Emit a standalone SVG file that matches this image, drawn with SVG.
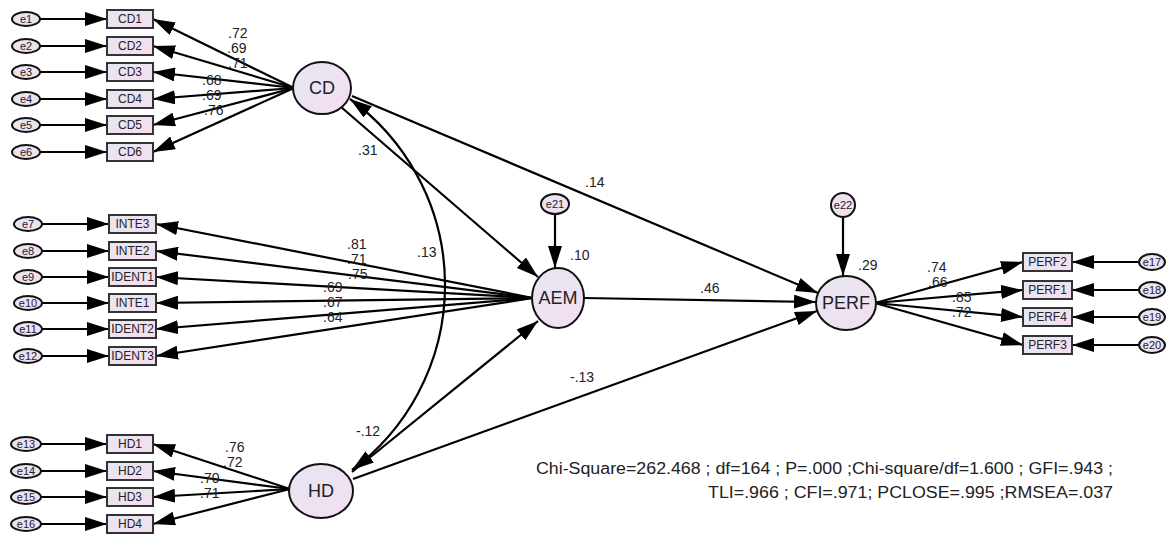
<svg xmlns="http://www.w3.org/2000/svg" width="1166" height="535" viewBox="0 0 1166 535">
<defs>
<linearGradient id="fillg" x1="0" y1="0" x2="1" y2="1">
<stop offset="0" stop-color="#e6e6f4"/>
<stop offset="1" stop-color="#f4deee"/>
</linearGradient>
<marker id="ah" markerUnits="userSpaceOnUse" markerWidth="22" markerHeight="14" refX="22" refY="7" orient="auto-start-reverse" viewBox="0 0 22 14">
<path d="M0,0 L22,7 L0,14 z" fill="#000"/>
</marker>
<style>
.c{stroke:#000;stroke-width:2.2;fill:none;marker-end:url(#ah)}
.cc{stroke:#000;stroke-width:2.2;fill:none;marker-end:url(#ah);marker-start:url(#ah)}
.n{fill:url(#fillg);stroke:#111;stroke-width:2}
.b{fill:url(#fillg);stroke:#333;stroke-width:2}
.e{fill:url(#fillg);stroke:#111;stroke-width:2}
text{font-family:"Liberation Sans",Arial,sans-serif;fill:#222}
.lt{font-size:18px;text-anchor:middle}
.bt{font-size:12px;text-anchor:middle}
.et{font-size:11px;text-anchor:middle}
.w{font-size:14px}
.fit{font-size:16px}
</style>
</defs>
<g id="connectors">
<line class="c" x1="40" y1="19" x2="107" y2="19"/>
<line class="c" x1="40" y1="46" x2="107" y2="46"/>
<line class="c" x1="40" y1="72" x2="107" y2="72"/>
<line class="c" x1="40" y1="99" x2="107" y2="99"/>
<line class="c" x1="40" y1="125" x2="107" y2="125"/>
<line class="c" x1="40" y1="152" x2="107" y2="152"/>
<line class="c" x1="42" y1="224" x2="109" y2="224"/>
<line class="c" x1="42" y1="251" x2="109" y2="251"/>
<line class="c" x1="42" y1="277" x2="109" y2="277"/>
<line class="c" x1="42" y1="303" x2="109" y2="303"/>
<line class="c" x1="42" y1="329" x2="109" y2="329"/>
<line class="c" x1="42" y1="356" x2="109" y2="356"/>
<line class="c" x1="41" y1="444" x2="107" y2="444"/>
<line class="c" x1="41" y1="471" x2="107" y2="471"/>
<line class="c" x1="41" y1="497" x2="107" y2="497"/>
<line class="c" x1="41" y1="524" x2="107" y2="524"/>
<line class="c" x1="1139" y1="262" x2="1072" y2="262"/>
<line class="c" x1="1139" y1="290" x2="1072" y2="290"/>
<line class="c" x1="1139" y1="317" x2="1072" y2="317"/>
<line class="c" x1="1139" y1="345" x2="1072" y2="345"/>
<line class="c" x1="294" y1="88" x2="153" y2="19"/>
<line class="c" x1="294" y1="88" x2="153" y2="46"/>
<line class="c" x1="294" y1="88" x2="153" y2="72"/>
<line class="c" x1="294" y1="88" x2="153" y2="99"/>
<line class="c" x1="294" y1="88" x2="153" y2="125"/>
<line class="c" x1="294" y1="88" x2="153" y2="152"/>
<line class="c" x1="533" y1="298" x2="156" y2="224"/>
<line class="c" x1="533" y1="298" x2="156" y2="251"/>
<line class="c" x1="533" y1="298" x2="156" y2="277"/>
<line class="c" x1="533" y1="298" x2="156" y2="303"/>
<line class="c" x1="533" y1="298" x2="156" y2="329"/>
<line class="c" x1="533" y1="298" x2="156" y2="356"/>
<line class="c" x1="290" y1="489" x2="153" y2="444"/>
<line class="c" x1="290" y1="489" x2="153" y2="471"/>
<line class="c" x1="290" y1="489" x2="153" y2="497"/>
<line class="c" x1="290" y1="489" x2="153" y2="524"/>
<line class="c" x1="875" y1="303" x2="1023" y2="262"/>
<line class="c" x1="875" y1="303" x2="1023" y2="290"/>
<line class="c" x1="875" y1="303" x2="1023" y2="317"/>
<line class="c" x1="875" y1="303" x2="1023" y2="345"/>
<line class="c" x1="555" y1="214" x2="555" y2="268"/>
<line class="c" x1="843" y1="217" x2="843" y2="276"/>
<line class="c" x1="341" y1="107" x2="538" y2="277"/>
<line class="c" x1="352" y1="96" x2="818" y2="293"/>
<line class="c" x1="584" y1="298" x2="816" y2="302"/>
<line class="c" x1="352" y1="472" x2="538" y2="321"/>
<line class="c" x1="353" y1="479" x2="817" y2="311"/>
<path class="cc" d="M350,99 A230,230 0 0 1 352,470"/>
</g>
<g id="labels">
<text class="w" x="228" y="38">.72</text>
<text class="w" x="227" y="53">.69</text>
<text class="w" x="228" y="68">.71</text>
<text class="w" x="202" y="85">.68</text>
<text class="w" x="202" y="100">.69</text>
<text class="w" x="204" y="115">.76</text>
<text class="w" x="347" y="249">.81</text>
<text class="w" x="347" y="264">.71</text>
<text class="w" x="348" y="279">.75</text>
<text class="w" x="323" y="292">.69</text>
<text class="w" x="323" y="307">.67</text>
<text class="w" x="323" y="322">.64</text>
<text class="w" x="225" y="452">.76</text>
<text class="w" x="223" y="467">.72</text>
<text class="w" x="200" y="483">.70</text>
<text class="w" x="200" y="498">.71</text>
<text class="w" x="927" y="272">.74</text>
<text class="w" x="928" y="287">.66</text>
<text class="w" x="952" y="302">.85</text>
<text class="w" x="952" y="317">.72</text>
<text class="w" x="358" y="155">.31</text>
<text class="w" x="585" y="187">.14</text>
<text class="w" x="417" y="257">.13</text>
<text class="w" x="570" y="260">.10</text>
<text class="w" x="858" y="270">.29</text>
<text class="w" x="700" y="293">.46</text>
<text class="w" x="570" y="382">-.13</text>
<text class="w" x="356" y="436">-.12</text>
<text class="fit" x="536" y="474" textLength="577" lengthAdjust="spacingAndGlyphs">Chi-Square=262.468 ; df=164 ; P=.000 ;Chi-square/df=1.600 ; GFI=.943 ;</text>
<text class="fit" x="708" y="498" textLength="405" lengthAdjust="spacingAndGlyphs">TLI=.966 ; CFI=.971; PCLOSE=.995 ;RMSEA=.037</text>
</g>
<g id="CD"><ellipse class="n" cx="322" cy="88" rx="29" ry="26"/><text class="lt" x="322" y="94">CD</text></g>
<g id="AEM"><ellipse class="n" cx="558" cy="298" rx="26" ry="30"/><text class="lt" x="558" y="304">AEM</text></g>
<g id="HD"><ellipse class="n" cx="321" cy="491" rx="32" ry="27"/><text class="lt" x="321" y="497">HD</text></g>
<g id="PERF"><ellipse class="n" cx="846" cy="303" rx="30" ry="27"/><text class="lt" x="846" y="309">PERF</text></g>
<g id="CD1"><rect class="b" x="107" y="10" width="46" height="18"/><text class="bt" x="130" y="23">CD1</text></g>
<g id="CD2"><rect class="b" x="107" y="37" width="46" height="18"/><text class="bt" x="130" y="50">CD2</text></g>
<g id="CD3"><rect class="b" x="107" y="63" width="46" height="18"/><text class="bt" x="130" y="76">CD3</text></g>
<g id="CD4"><rect class="b" x="107" y="90" width="46" height="18"/><text class="bt" x="130" y="103">CD4</text></g>
<g id="CD5"><rect class="b" x="107" y="116" width="46" height="18"/><text class="bt" x="130" y="129">CD5</text></g>
<g id="CD6"><rect class="b" x="107" y="143" width="46" height="18"/><text class="bt" x="130" y="156">CD6</text></g>
<g id="INTE3"><rect class="b" x="109" y="215" width="47" height="18"/><text class="bt" x="132.5" y="228">INTE3</text></g>
<g id="INTE2"><rect class="b" x="109" y="242" width="47" height="18"/><text class="bt" x="132.5" y="255">INTE2</text></g>
<g id="IDENT1"><rect class="b" x="109" y="268" width="47" height="18"/><text class="bt" x="132.5" y="281">IDENT1</text></g>
<g id="INTE1"><rect class="b" x="109" y="294" width="47" height="18"/><text class="bt" x="132.5" y="307">INTE1</text></g>
<g id="IDENT2"><rect class="b" x="109" y="320" width="47" height="18"/><text class="bt" x="132.5" y="333">IDENT2</text></g>
<g id="IDENT3"><rect class="b" x="109" y="347" width="47" height="18"/><text class="bt" x="132.5" y="360">IDENT3</text></g>
<g id="HD1"><rect class="b" x="107" y="435" width="46" height="18"/><text class="bt" x="130" y="448">HD1</text></g>
<g id="HD2"><rect class="b" x="107" y="462" width="46" height="18"/><text class="bt" x="130" y="475">HD2</text></g>
<g id="HD3"><rect class="b" x="107" y="488" width="46" height="18"/><text class="bt" x="130" y="501">HD3</text></g>
<g id="HD4"><rect class="b" x="107" y="515" width="46" height="18"/><text class="bt" x="130" y="528">HD4</text></g>
<g id="PERF2"><rect class="b" x="1023" y="253" width="49" height="18"/><text class="bt" x="1047.5" y="266">PERF2</text></g>
<g id="PERF1"><rect class="b" x="1023" y="281" width="49" height="18"/><text class="bt" x="1047.5" y="294">PERF1</text></g>
<g id="PERF4"><rect class="b" x="1023" y="308" width="49" height="18"/><text class="bt" x="1047.5" y="321">PERF4</text></g>
<g id="PERF3"><rect class="b" x="1023" y="336" width="49" height="18"/><text class="bt" x="1047.5" y="349">PERF3</text></g>
<g id="e1"><ellipse class="e" cx="26" cy="19" rx="14" ry="7"/><text class="et" x="26" y="23">e1</text></g>
<g id="e2"><ellipse class="e" cx="26" cy="46" rx="14" ry="7"/><text class="et" x="26" y="50">e2</text></g>
<g id="e3"><ellipse class="e" cx="26" cy="72" rx="14" ry="7"/><text class="et" x="26" y="76">e3</text></g>
<g id="e4"><ellipse class="e" cx="26" cy="99" rx="14" ry="7"/><text class="et" x="26" y="103">e4</text></g>
<g id="e5"><ellipse class="e" cx="26" cy="125" rx="14" ry="7"/><text class="et" x="26" y="129">e5</text></g>
<g id="e6"><ellipse class="e" cx="26" cy="152" rx="14" ry="7"/><text class="et" x="26" y="156">e6</text></g>
<g id="e7"><ellipse class="e" cx="28" cy="224" rx="14" ry="7"/><text class="et" x="28" y="228">e7</text></g>
<g id="e8"><ellipse class="e" cx="28" cy="251" rx="14" ry="7"/><text class="et" x="28" y="255">e8</text></g>
<g id="e9"><ellipse class="e" cx="28" cy="277" rx="14" ry="7"/><text class="et" x="28" y="281">e9</text></g>
<g id="e10"><ellipse class="e" cx="28" cy="303" rx="14" ry="7"/><text class="et" x="28" y="307">e10</text></g>
<g id="e11"><ellipse class="e" cx="28" cy="329" rx="14" ry="7"/><text class="et" x="28" y="333">e11</text></g>
<g id="e12"><ellipse class="e" cx="28" cy="356" rx="14" ry="7"/><text class="et" x="28" y="360">e12</text></g>
<g id="e13"><ellipse class="e" cx="26" cy="444" rx="15" ry="7"/><text class="et" x="26" y="448">e13</text></g>
<g id="e14"><ellipse class="e" cx="26" cy="471" rx="15" ry="7"/><text class="et" x="26" y="475">e14</text></g>
<g id="e15"><ellipse class="e" cx="26" cy="497" rx="15" ry="7"/><text class="et" x="26" y="501">e15</text></g>
<g id="e16"><ellipse class="e" cx="26" cy="524" rx="15" ry="7"/><text class="et" x="26" y="528">e16</text></g>
<g id="e17"><ellipse class="e" cx="1152" cy="262" rx="13" ry="8"/><text class="et" x="1152" y="266">e17</text></g>
<g id="e18"><ellipse class="e" cx="1152" cy="290" rx="13" ry="8"/><text class="et" x="1152" y="294">e18</text></g>
<g id="e19"><ellipse class="e" cx="1152" cy="317" rx="13" ry="8"/><text class="et" x="1152" y="321">e19</text></g>
<g id="e20"><ellipse class="e" cx="1152" cy="345" rx="13" ry="8"/><text class="et" x="1152" y="349">e20</text></g>
<g id="e21"><ellipse class="e" cx="555" cy="204" rx="14" ry="10"/><text class="et" x="555" y="208">e21</text></g>
<g id="e22"><ellipse class="e" cx="843" cy="205" rx="12" ry="12"/><text class="et" x="843" y="209">e22</text></g>
</svg>
